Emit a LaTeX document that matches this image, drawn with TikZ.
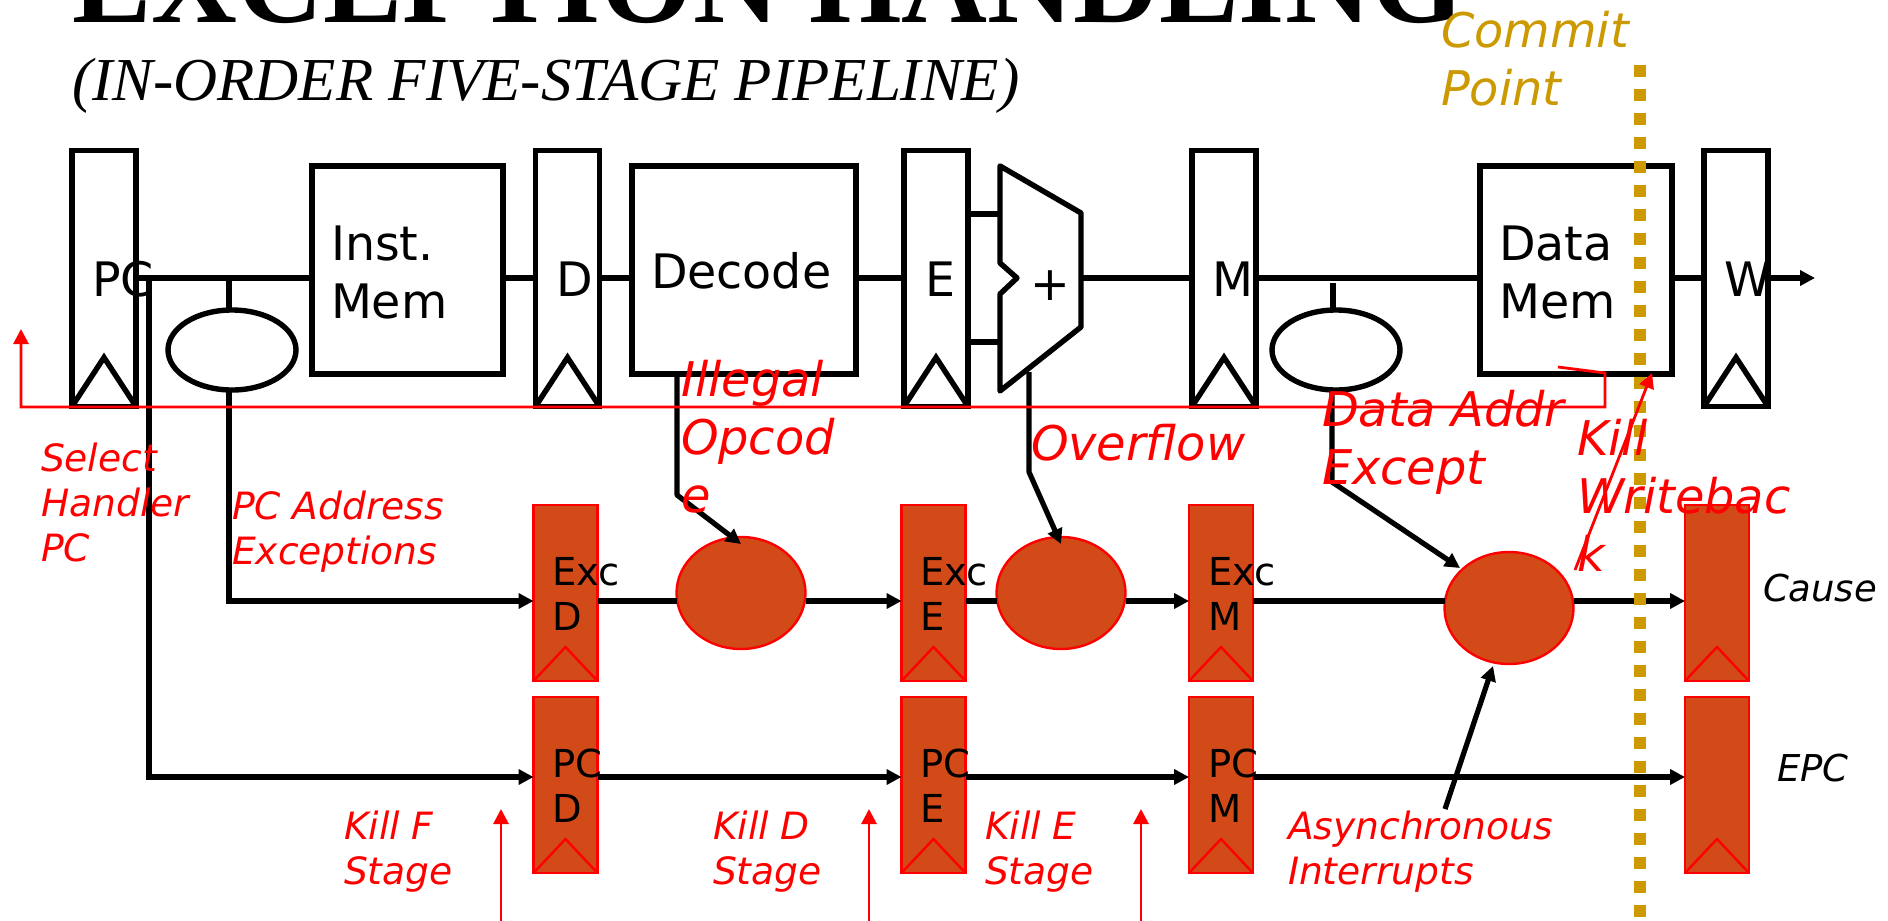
\documentclass[tikz,border=0pt]{standalone}
\usepackage{fontspec}
\setmainfont{DejaVu Sans}
\newfontfamily\titlefont{Liberation Serif}
\usetikzlibrary{arrows.meta,calc,shapes.geometric}
\definecolor{brick}{HTML}{D24A17}
\definecolor{gold}{HTML}{CC9900}
\tikzset{
  x=1pt,y=-1pt,
  wire/.style={draw=black,line width=5.2pt},
  wirea/.style={wire,-{Triangle[length=15pt,width=15pt]}},
  redline/.style={draw=red,line width=2.8pt},
  reda/.style={redline,-{Triangle[length=15pt,width=15pt]}},
  blk/.style={draw=black,line width=5.4pt,fill=none,inner sep=0pt,outer sep=0pt},
  reg/.style={blk,minimum width=64pt,minimum height=256pt},
  brickreg/.style={draw=red,line width=2.4pt,fill=brick,inner sep=0pt,outer sep=0pt,minimum width=64pt,minimum height=176pt},
  brickell/.style={ellipse,draw=red,line width=2.4pt,fill=brick,inner sep=0pt,outer sep=0pt,minimum width=129pt,minimum height=112pt},
  oval/.style={ellipse,draw=black,line width=5.4pt,inner sep=0pt,outer sep=0pt,minimum width=128pt,minimum height=80pt},
  lab/.style={anchor=base west,inner sep=0pt,outer sep=0pt,align=left},
  big/.style={lab,font=\fontsize{47.5}{58}\selectfont},
  mid/.style={lab,font=\fontsize{38.5}{45}\selectfont},
  redbig/.style={lab,text=red,font=\fontsize{47.8}{58}\selectfont\itshape},
  redmid/.style={lab,text=red,font=\fontsize{37.6}{45}\selectfont\itshape},
  blkit/.style={lab,font=\fontsize{37}{45}\selectfont\itshape},
}
\newcommand{\notchup}[3]{\draw[#3] (#1.south west) -- ($(#1.south)+(0,#2)$) -- (#1.south east);}
\begin{document}
\begin{tikzpicture}
\useasboundingbox (0,0) rectangle (1888,921);
\clip (0,0) rectangle (1888,921);
\fill[white] (0,0) rectangle (1888,921);
\coordinate (main) at (0,278);
\coordinate (lowa) at (0,601);
\coordinate (lowb) at (0,777);

% title
\node[lab,font=\titlefont\bfseries\fontsize{119}{119}\selectfont] (title) at (72,22) {EXCEPTION HANDLING};
\node[lab,font=\titlefont\itshape\fontsize{61}{61}\selectfont] (subtitle) at (72,100) {(IN-ORDER FIVE-STAGE PIPELINE)};

% pipeline registers and blocks
\node[reg] (pc) at (104,278.5) {};
\node[reg] (rd) at (567.5,278.5) {};
\node[reg] (re) at (936,278.5) {};
\node[reg] (rm) at (1224,278.5) {};
\node[reg] (rw) at (1736,278.5) {};
\notchup{pc}{-49}{blk}
\notchup{rd}{-49}{blk}
\notchup{re}{-49}{blk}
\notchup{rm}{-49}{blk}
\notchup{rw}{-49}{blk}
\node[blk,minimum width=191pt,minimum height=208pt] (imem) at (407.5,270) {};
\node[blk,minimum width=224pt,minimum height=208pt] (dec) at (744,270) {};
\node[blk,minimum width=192pt,minimum height=208pt] (dmem) at (1576,270) {};
\node[oval] (opc) at (232,350) {};
\node[oval] (om) at (1336,350) {};

% adder
\coordinate (addtl) at (1000,166);
\coordinate (addtr) at (1081,213);
\coordinate (addbr) at (1081,327);
\coordinate (addbl) at (1000,391);
\coordinate (addn) at (1017,278);
\draw[blk,line join=round] (addtl) -- (addtr) -- (addbr) -- (addbl) -- (1000,294) -- (addn) -- (1000,263) -- cycle;

% upper wires
\draw[wire] (pc.east |- main) -- (imem.west |- main);
\draw[wire] (imem.east |- main) -- (rd.west |- main);
\draw[wire] (rd.east |- main) -- (dec.west |- main);
\draw[wire] (dec.east |- main) -- (re.west |- main);
\draw[wire] (re.east |- 0,214) -- (addtl |- 0,214);
\draw[wire] (re.east |- 0,342) -- (addtl |- 0,342);
\draw[wire] (addbr |- main) -- (rm.west |- main);
\draw[wire] (rm.east |- main) -- (dmem.west |- main);
\draw[wire] (dmem.east |- main) -- (rw.west |- main);
\draw[wirea] (rw.east |- main) -- (1815,278);
\coordinate (pcv) at (149,278);
\draw[wire] (229,278) -- (229,310);
\draw[wire] (1333,283) -- (1333,308);

% lower registers
\node[brickreg] (excd) at (565.5,593) {};
\node[brickreg] (exce) at (933.5,593) {};
\node[brickreg] (excm) at (1221,593) {};
\node[brickreg] (cause) at (1717,593) {};
\node[brickreg] (pcd) at (565.5,785) {};
\node[brickreg] (pce) at (933.5,785) {};
\node[brickreg] (pcm) at (1221,785) {};
\node[brickreg] (epc) at (1717,785) {};
\foreach \r in {excd,exce,excm,cause,pcd,pce,pcm,epc}{\notchup{\r}{-34}{draw=red,line width=2.4pt}}
\node[brickell] (ed) at (741,593) {};
\node[brickell] (ee) at (1061,593) {};
\node[brickell] (em) at (1509,608) {};

% lower wires
\coordinate (ib) at (229,601);
\draw[wire] (opc.south -| 229,0) -- (ib) -- ++(2.6,0);
\draw[wirea] (ib) -- (excd.west |- lowa);
\draw[wire] (excd.east |- lowa) -- (ed.west |- lowa);
\draw[wirea] (ed.east |- lowa) -- (exce.west |- lowa);
\draw[wire] (exce.east |- lowa) -- (ee.west |- lowa);
\draw[wirea] (ee.east |- lowa) -- (excm.west |- lowa);
\draw[wire] (excm.east |- lowa) -- (em.west |- lowa);
\draw[wirea] (em.east |- lowa) -- (cause.west |- lowa);
\coordinate (ic) at (149,777);
\draw[wire,line cap=rect] (pcv) -- (ic);
\draw[wirea] (ic) -- (pcd.west |- lowb);
\draw[wirea] (pcd.east |- lowb) -- (pce.west |- lowb);
\draw[wirea] (pce.east |- lowb) -- (pcm.west |- lowb);
\draw[wirea] (pcm.east |- lowb) -- (epc.west |- lowb);

% exception arrows
\coordinate (tipd) at (741,544);
\coordinate (tipe) at (1061,544);
\coordinate (tipm) at (1460,568);
\coordinate (tipa) at (1493,666);
\coordinate (srca) at (1445,809);
\draw[wirea,line join=round] (677,374) -- (677,495) -- (tipd);
\draw[wirea,line join=round] (1029,372) -- (1029,472) -- (tipe);
\draw[wirea,line join=round] (1332,390) -- (1332,482) -- (tipm);
\draw[wirea] (srca) -- (tipa);

% commit line
\coordinate (cta) at (1640,65);
\coordinate (ctb) at (1640,921);
\draw[gold,line width=11.5pt,dash pattern=on 12pt off 12pt] (cta) -- (ctb);

% red lines
\coordinate (ha) at (1558,367);
\coordinate (hb) at (1605,373);
\coordinate (hc) at (1605,407);
\coordinate (hd) at (21,407);
\coordinate (he) at (21,329);
\draw[reda,line join=miter] (ha) -- (hb) -- (hc) -- (hd) -- (he);
\coordinate (wa) at (1575,570);
\coordinate (wb) at (1652,373);
\draw[reda] (wa) -- (wb);
\coordinate (ka) at (501,921);
\coordinate (kb) at (501,809);
\coordinate (kc) at (869,921);
\coordinate (kd) at (869,809);
\coordinate (ke) at (1141,921);
\coordinate (kf) at (1141,809);
\draw[reda] (ka) -- (kb);
\draw[reda] (kc) -- (kd);
\draw[reda] (ke) -- (kf);

% labels
\node[big] (tpc) at (92,296) {PC};
\node[big] (td) at (556,296) {D};
\node[big] (te) at (925,296) {E};
\node[big] (tm) at (1212,296) {M};
\node[big] (tw) at (1724,296) {W};
\node[big] (tdec) at (651,288) {Decode};
\node[big] (tinst) at (331,318) {Inst.\\Mem};
\node[big] (tdata) at (1499,318) {Data\\Mem};
\node[big] (tplus) at (1030,300) {+};
\node[mid] (t1) at (552,630) {Exc\\D};
\node[mid] (t2) at (920,630) {Exc\\E};
\node[mid] (t3) at (1208,630) {Exc\\M};
\node[mid] (t4) at (552,822) {PC\\D};
\node[mid] (t5) at (920,822) {PC\\E};
\node[mid] (t6) at (1208,822) {PC\\M};
\node[blkit] (tcause) at (1763,601) {Cause};
\node[blkit] (tepc) at (1777,781) {EPC};
\node[lab,text=gold,font=\fontsize{47.8}{58}\selectfont\itshape] (tcommit) at (1441,105) {Commit\\Point};
\node[redmid] (tsel) at (41,561) {Select\\Handler\\PC};
\node[redmid] (tpca) at (232,564) {PC Address\\Exceptions};
\node[redbig] (till) at (681,512) {Illegal\\Opcod\\e};
\node[redbig] (tov) at (1031,460) {Overflow};
\node[redbig] (tdat) at (1322,484) {Data Addr\\Except};
\node[redbig] (twb) at (1577,571) {Kill\\Writebac\\k};
\node[redmid] (tkf) at (344,884) {Kill F\\Stage};
\node[redmid] (tkd) at (713,884) {Kill D\\Stage};
\node[redmid] (tke) at (985,884) {Kill E\\Stage};
\node[redmid] (tas) at (1288,884) {Asynchronous\\Interrupts};
\end{tikzpicture}
\end{document}
